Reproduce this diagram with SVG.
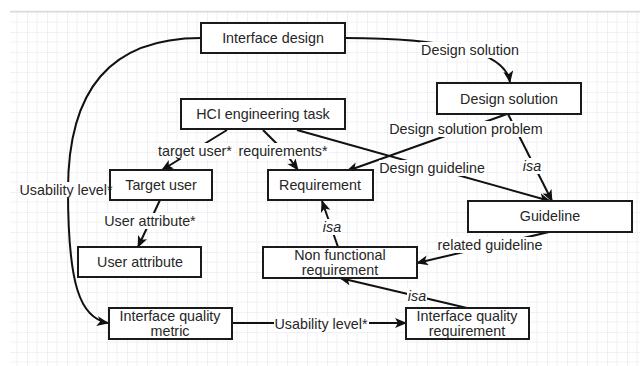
<svg xmlns="http://www.w3.org/2000/svg" width="640" height="366" viewBox="0 0 640 366">
<style>
.node rect{fill:#fff;stroke:#1a1a1a;stroke-width:2}
text{font-family:"Liberation Sans",Arial,sans-serif;font-size:14.3px;fill:#262626;text-anchor:middle;dominant-baseline:central}
.edge{fill:none;stroke:#111;stroke-width:2}
.lbl rect{fill:#fff;stroke:none}
.it{font-style:italic}
</style>
<defs>
<pattern id="grid" width="20" height="20" patternUnits="userSpaceOnUse" x="7" y="12">
<path d="M10,0V20M0,10H20" stroke="#f1f1f6" stroke-width="1" fill="none"/>
<path d="M0,0V20M0,0H20" stroke="#e4e4ec" stroke-width="1.2" fill="none"/>
</pattern>
<marker id="arr" markerUnits="userSpaceOnUse" markerWidth="14" markerHeight="12" refX="11" refY="5" orient="auto">
<path d="M0,0L12,5L0,10L3,5z" fill="#111"/>
</marker>
</defs>
<rect width="640" height="366" fill="#fff"/>
<rect x="10" y="12" width="630" height="354" fill="url(#grid)"/>
<line x1="10" y1="11.5" x2="640" y2="11.5" stroke="#dcdcdc" stroke-width="1.5"/>

<g id="connectors">
<path class="edge" d="M345,38 C440,38 505,50 510,82" marker-end="url(#arr)"/>
<path class="edge" d="M201,38 C110,38 68,90 68,190 C68,285 80,318 108,323" marker-end="url(#arr)"/>
<path class="edge" d="M227,130 L162,170" marker-end="url(#arr)"/>
<path class="edge" d="M263,130 L284,151 L298,170" marker-end="url(#arr)"/>
<path class="edge" d="M297,130 L550,201" marker-end="url(#arr)"/>
<path class="edge" d="M507,114 L347,171" marker-end="url(#arr)"/>
<path class="edge" d="M508,114 L552,201" marker-end="url(#arr)"/>
<path class="edge" d="M160,200 L138,247" marker-end="url(#arr)"/>
<path class="edge" d="M338,247 L322,201" marker-end="url(#arr)"/>
<path class="edge" d="M549,232 L417,263" marker-end="url(#arr)"/>
<path class="edge" d="M467,308 L340,278" marker-end="url(#arr)"/>
<path class="edge" d="M232,323 L406,323" marker-end="url(#arr)"/>

<g class="lbl"><rect x="420" y="42" width="100" height="16"/><text x="470" y="50">Design solution</text></g>
<g class="lbl"><rect x="157" y="143" width="77" height="16"/><text x="195" y="151">target user*</text></g>
<g class="lbl"><rect x="238" y="143" width="91" height="16"/><text x="283" y="151">requirements*</text></g>
<g class="lbl"><rect x="389" y="121" width="155" height="16"/><text x="466" y="129">Design solution problem</text></g>
<g class="lbl"><rect x="379" y="160" width="107" height="16"/><text x="432" y="168">Design guideline</text></g>
<g class="lbl"><rect x="522" y="158" width="20" height="16"/><text class="it" x="532" y="166">isa</text></g>
<g class="lbl"><rect x="104" y="213" width="93" height="16"/><text x="150" y="221">User attribute*</text></g>
<g class="lbl"><rect x="322" y="219" width="20" height="16"/><text class="it" x="332" y="227">isa</text></g>
<g class="lbl"><rect x="437" y="237" width="107" height="16"/><text x="490" y="245">related guideline</text></g>
<g class="lbl"><rect x="407" y="288" width="20" height="16"/><text class="it" x="417" y="296">isa</text></g>
<g class="lbl"><rect x="274" y="316" width="95" height="16"/><text x="321" y="324">Usability level*</text></g>
</g>

<g id="interface-design" class="node"><rect x="201" y="23" width="144" height="30"/><text x="273" y="38">Interface design</text></g>
<g id="hci-task" class="node"><rect x="181" y="99" width="164" height="30"/><text x="263" y="114">HCI engineering task</text></g>
<g id="design-solution" class="node"><rect x="437" y="83" width="144" height="31"/><text x="509" y="99">Design solution</text></g>
<g id="target-user" class="node"><rect x="110" y="170" width="102" height="30"/><text x="161" y="185">Target user</text></g>
<g id="requirement" class="node"><rect x="268" y="170" width="105" height="30"/><text x="320" y="185">Requirement</text></g>
<g id="guideline" class="node"><rect x="468" y="201" width="164" height="31"/><text x="550" y="216">Guideline</text></g>
<g id="user-attribute" class="node"><rect x="78" y="247" width="123" height="30"/><text x="140" y="262">User attribute</text></g>
<g id="non-functional" class="node"><rect x="263" y="247" width="154" height="31"/><text x="340" y="255">Non functional</text><text x="340" y="270">requirement</text></g>
<g id="iq-metric" class="node"><rect x="109" y="308" width="123" height="31"/><text x="170" y="316">Interface quality</text><text x="170" y="331">metric</text></g>
<g id="iq-requirement" class="node"><rect x="406" y="308" width="123" height="31"/><text x="467" y="316">Interface quality</text><text x="467" y="331">requirement</text></g>

<g id="label-usability-left" class="lbl"><rect x="20" y="182" width="89" height="16"/><text x="66" y="190">Usability level*</text></g>
</svg>
